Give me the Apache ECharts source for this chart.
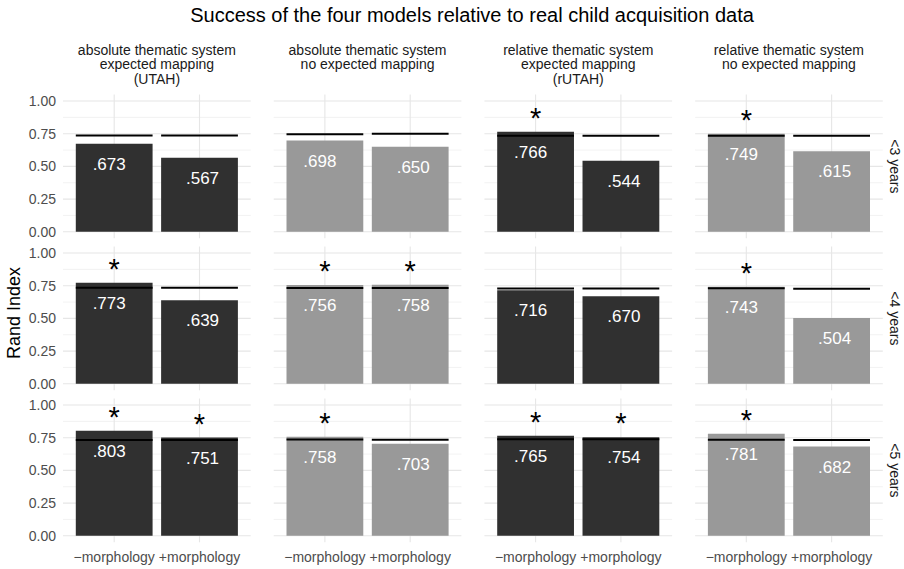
<!DOCTYPE html>
<html>
<head>
<meta charset="utf-8">
<script src="https://cdn.jsdelivr.net/npm/echarts@6/dist/echarts.min.js"></script>
<style>
html,body{margin:0;padding:0;background:#fff;}
#chart{width:904px;height:569px;}
</style>
</head>
<body>
<div id="chart"></div>
<script>
// ---------- data ----------
const chartTitle = 'Success of the four models relative to real child acquisition data';
const ageGroups = ['<3 years', '<4 years', '<5 years'];
const models = [
  'absolute thematic system\nexpected mapping\n(UTAH)',
  'absolute thematic system\nno expected mapping',
  'relative thematic system\nexpected mapping\n(rUTAH)',
  'relative thematic system\nno expected mapping'
];
const morphology = ['\u2212morphology', '+morphology'];
const yTicks = [0, 0.25, 0.5, 0.75, 1];
const yMinor = [0.125, 0.375, 0.625, 0.875];
const yTitle = 'Rand Index';

// Rand index per model: [−morphology, +morphology]
const under3 = [[0.673, 0.567], [0.698, 0.650], [0.766, 0.544], [0.749, 0.615]];
const under4 = [[0.773, 0.639], [0.756, 0.758], [0.716, 0.670], [0.743, 0.504]];
const under5 = [[0.803, 0.751], [0.758, 0.703], [0.765, 0.754], [0.781, 0.682]];
// reference (child data) level shown as black segment
const base3 = [[0.737, 0.737], [0.745, 0.750], [0.735, 0.735], [0.735, 0.735]];
const base4 = [[0.734, 0.734], [0.732, 0.732], [0.728, 0.728], [0.730, 0.727]];
const base5 = [[0.732, 0.732], [0.737, 0.735], [0.738, 0.738], [0.735, 0.732]];
// significance stars (1 = star)
const star3 = [[0, 0], [0, 0], [1, 0], [1, 0]];
const star4 = [[1, 0], [1, 1], [0, 0], [1, 0]];
const star5 = [[1, 1], [1, 0], [1, 1], [1, 0]];

const values = [under3, under4, under5];
const bases = [base3, base4, base5];
const stars = [star3, star4, star5];

// ---------- style / layout ----------
const FONT = '"Liberation Sans", Arial, Helvetica, sans-serif';
const barColors = ['#303030', '#999999', '#303030', '#999999'];
const PX0 = 63, PDX = 210.7, PW = 187.7;
const PY0 = 94.5, PDY = 152, PH = 143.8;
const XMIN = 0.4, XMAX = 2.6;
const barW = PW / (XMAX - XMIN) * 0.9;

const grids = [], xAxes = [], yAxes = [], series = [], graphics = [];

const fmt = v => v.toFixed(3).replace(/^0/, '');

for (let r = 0; r < 3; r++) {
  for (let c = 0; c < 4; c++) {
    const idx = r * 4 + c;
    grids.push({left: PX0 + c * PDX, top: PY0 + r * PDY, width: PW, height: PH, containLabel: false});
    xAxes.push({
      gridIndex: idx, type: 'value', min: XMIN, max: XMAX,
      axisLine: {show: false}, axisTick: {show: false, customValues: [1, 2]}, splitLine: {show: false},
      axisLabel: {
        show: r === 2, customValues: [1, 2], margin: 8,
        color: '#4d4d4d', fontSize: 14, fontFamily: FONT,
        formatter: v => (Math.abs(v - 1) < 1e-6 ? morphology[0] : (Math.abs(v - 2) < 1e-6 ? morphology[1] : ''))
      }
    });
    yAxes.push({
      gridIndex: idx, type: 'value', min: -0.05, max: 1.05,
      axisLine: {show: false}, axisTick: {show: false, customValues: yTicks}, splitLine: {show: false},
      axisLabel: {
        show: c === 0, customValues: yTicks, margin: 7,
        color: '#4d4d4d', fontSize: 14, fontFamily: FONT,
        formatter: v => v.toFixed(2)
      }
    });
    // grid lines
    const gl = [];
    yTicks.forEach(v => gl.push([0, v]));
    yMinor.forEach(v => gl.push([1, v]));
    gl.push([2, 1]); gl.push([2, 2]);
    series.push({
      type: 'custom', xAxisIndex: idx, yAxisIndex: idx, z: 1, silent: true, clip: false,
      data: gl.map(d => ({value: [d[0] === 2 ? d[1] : 1, d[0] === 2 ? 0 : d[1], d[0]]})),
      renderItem: function (params, api) {
        const cs = params.coordSys;
        const kind = api.value(2);
        if (kind === 2) {
          const x = api.coord([api.value(0), 0])[0];
          return {type: 'line', shape: {x1: x, y1: cs.y, x2: x, y2: cs.y + cs.height},
            style: {stroke: '#e6e6e6', lineWidth: 1.1}};
        }
        const y = api.coord([1, api.value(1)])[1];
        return {type: 'line', shape: {x1: cs.x, y1: y, x2: cs.x + cs.width, y2: y},
          style: {stroke: kind === 0 ? '#e6e6e6' : '#efefef', lineWidth: kind === 0 ? 1.1 : 0.8}};
      }
    });
    // bars
    const vals = values[r][c];
    series.push({
      type: 'bar', xAxisIndex: idx, yAxisIndex: idx, z: 2, barWidth: barW, silent: true,
      itemStyle: {color: barColors[c]},
      data: vals.map((v, i) => ({
        value: [i + 1, v],
        label: {
          show: true, position: 'insideTop', distance: 12, offset: [i === 0 ? -5 : 3, 0],
          color: '#ffffff', fontSize: 17, fontFamily: FONT,
          formatter: () => fmt(v)
        }
      }))
    });
    // baseline segment + stars
    const bs = bases[r][c], st = stars[r][c];
    series.push({
      type: 'custom', xAxisIndex: idx, yAxisIndex: idx, z: 5, silent: true, clip: false,
      data: vals.map((v, i) => [i + 1, bs[i], v, st[i]]),
      renderItem: function (params, api) {
        const x = api.value(0);
        const p = api.coord([x, api.value(1)]);
        const w = api.size([0.9, 0])[0];
        const children = [{
          type: 'line', shape: {x1: p[0] - w / 2, y1: p[1], x2: p[0] + w / 2, y2: p[1]},
          style: {stroke: '#000000', lineWidth: 2}
        }];
        if (api.value(3) === 1) {
          const q = api.coord([x, api.value(2)]);
          children.push({
            type: 'text', x: q[0], y: q[1] - 14,
            style: {text: '*', fill: '#000000', fontSize: 29, fontFamily: FONT,
              align: 'center', verticalAlign: 'middle', textAlign: 'center', textVerticalAlign: 'middle'}
          });
        }
        return {type: 'group', children: children};
      }
    });
  }
}

// strip titles (top)
models.forEach((m, c) => {
  graphics.push({
    type: 'text', x: PX0 + c * PDX + PW / 2, y: 42.5,
    style: {text: m, fill: '#1a1a1a', fontSize: 14, fontFamily: FONT, lineHeight: 14.5,
      align: 'center', verticalAlign: 'top', textAlign: 'center', textVerticalAlign: 'top'}
  });
});
// strip titles (right)
ageGroups.forEach((a, r) => {
  graphics.push({
    type: 'text', x: 894.5, y: PY0 + r * PDY + PH / 2, rotation: -Math.PI / 2,
    style: {text: a, fill: '#1a1a1a', fontSize: 14, fontFamily: FONT,
      align: 'center', verticalAlign: 'middle', textAlign: 'center', textVerticalAlign: 'middle'}
  });
});
// main title
graphics.push({
  type: 'text', x: 472, y: 15,
  style: {text: chartTitle, fill: '#000000', fontSize: 20, fontFamily: FONT,
    align: 'center', verticalAlign: 'middle', textAlign: 'center', textVerticalAlign: 'middle'}
});
// y axis title
graphics.push({
  type: 'text', x: 14, y: 313, rotation: Math.PI / 2,
  style: {text: yTitle, fill: '#000000', fontSize: 18, fontFamily: FONT,
    align: 'center', verticalAlign: 'middle', textAlign: 'center', textVerticalAlign: 'middle'}
});

const chart = echarts.init(document.getElementById('chart'), null, {renderer: 'svg', width: 904, height: 569});
chart.setOption({
  animation: false,
  backgroundColor: '#ffffff',
  grid: grids,
  xAxis: xAxes,
  yAxis: yAxes,
  series: series,
  graphic: graphics
});
</script>
</body>
</html>
